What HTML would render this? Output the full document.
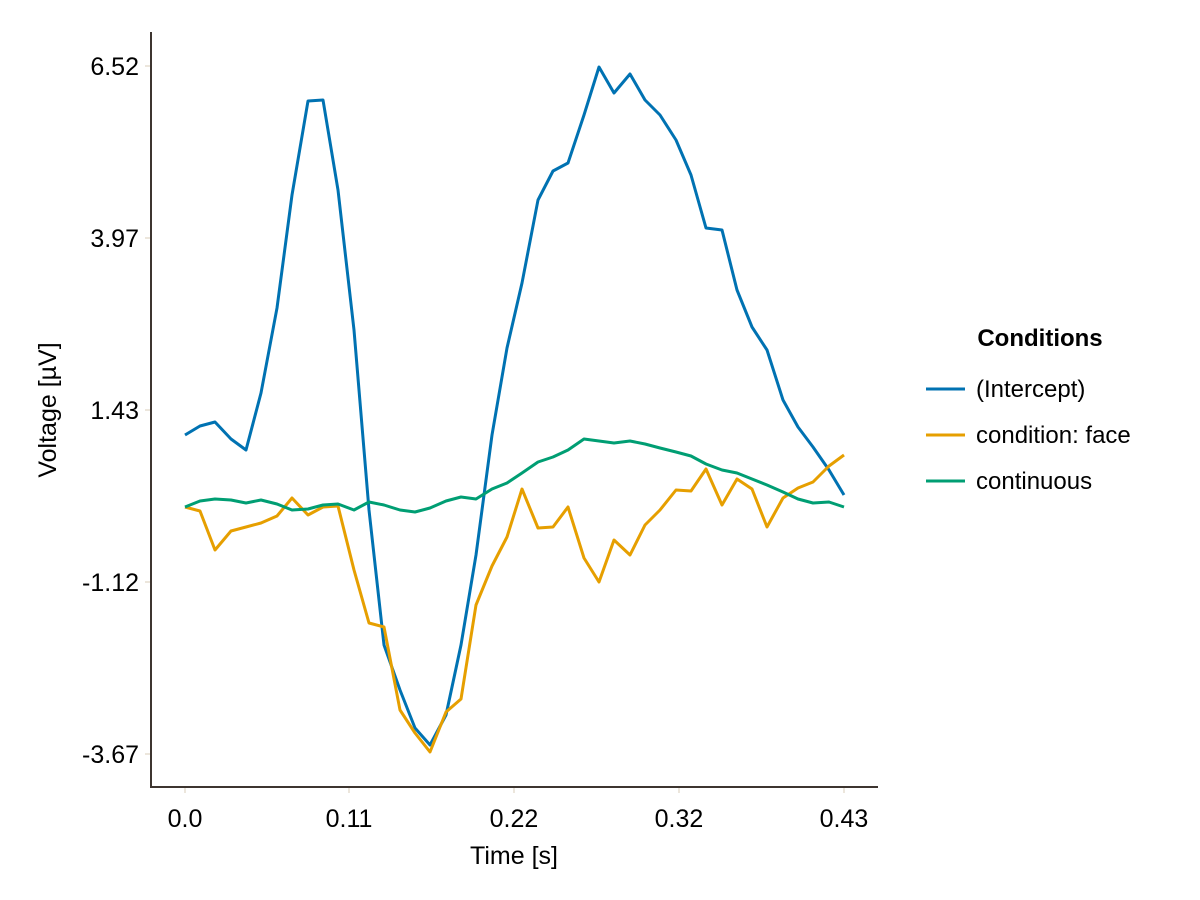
<!DOCTYPE html>
<html><head><meta charset="utf-8"><style>body{margin:0;background:#fff}svg{display:block}text{font-family:"Liberation Sans",sans-serif;fill:#000}</style></head><body>
<svg width="1200" height="900" viewBox="0 0 1200 900">
<rect width="1200" height="900" fill="#fff"/>
<g stroke="#ece6dc" stroke-width="2">
<line x1="145" y1="66" x2="150" y2="66"/><line x1="145" y1="238" x2="150" y2="238"/><line x1="145" y1="410" x2="150" y2="410"/><line x1="145" y1="582" x2="150" y2="582"/><line x1="145" y1="754" x2="150" y2="754"/>
<line x1="185" y1="788" x2="185" y2="793"/><line x1="349" y1="788" x2="349" y2="793"/><line x1="514" y1="788" x2="514" y2="793"/><line x1="679" y1="788" x2="679" y2="793"/><line x1="844" y1="788" x2="844" y2="793"/>
</g>
<g stroke="#3d3530" stroke-width="2">
<line x1="151" y1="32" x2="151" y2="788"/>
<line x1="150" y1="787" x2="878" y2="787"/>
</g>
<g font-size="25" text-anchor="end">
<text x="139" y="75">6.52</text>
<text x="139" y="247">3.97</text>
<text x="139" y="419">1.43</text>
<text x="139" y="591">-1.12</text>
<text x="139" y="763">-3.67</text>
</g>
<g font-size="25" text-anchor="middle">
<text x="185" y="827">0.0</text>
<text x="349" y="827">0.11</text>
<text x="514" y="827">0.22</text>
<text x="679" y="827">0.32</text>
<text x="844" y="827">0.43</text>
<text x="514" y="864">Time [s]</text>
<text transform="translate(56,410) rotate(-90)">Voltage [µV]</text>
</g>
<g fill="none" stroke-width="3" stroke-linejoin="round">
<polyline stroke="#0072b2" points="185,435 200,426 215,422 231,439 246,450 261,393 277,308 292,195 308,101 323,100 338,190 354,330 369,510 384,645 400,690 415,728 430,745 446,715 461,645 476,555 492,435 507,348 522,283 538,200 553,171 568,163 584,115 599,67 614,93 630,74 645,100 660,115 676,140 691,175 706,228 722,230 737,290 752,327 767,350 783,400 798,427 813,447 829,470 844,495"/>
<polyline stroke="#e69f00" points="185,507 200,511 215,550 231,531 246,527 261,523 277,516 292,498 308,515 323,507 338,506 354,570 369,623 384,627 400,710 415,733 430,752 446,712 461,699 476,605 492,566 507,537 522,489 538,528 553,527 568,507 584,558 599,582 614,540 630,555 645,525 660,510 676,490 691,491 706,469 722,505 737,479 752,489 767,527 783,498 798,488 813,482 829,466 844,455"/>
<polyline stroke="#009e73" points="185,507 200,501 215,499 231,500 246,503 261,500 277,504 292,510 308,509 323,505 338,504 354,510 369,502 384,505 400,510 415,512 430,508 446,501 461,497 476,499 492,489 507,483 522,473 538,462 553,457 568,450 584,439 599,441 614,443 630,441 645,444 660,448 676,452 691,456 706,464 722,470 737,473 752,479 767,485 783,492 798,499 813,503 829,502 844,507"/>
</g>
<text x="1040" y="346" font-size="24" font-weight="bold" text-anchor="middle">Conditions</text>
<g stroke-width="3">
<line x1="926" y1="389" x2="965" y2="389" stroke="#0072b2"/>
<line x1="926" y1="435" x2="965" y2="435" stroke="#e69f00"/>
<line x1="926" y1="481" x2="965" y2="481" stroke="#009e73"/>
</g>
<g font-size="24">
<text x="976" y="397">(Intercept)</text>
<text x="976" y="443">condition: face</text>
<text x="976" y="489">continuous</text>
</g>
</svg>
</body></html>
